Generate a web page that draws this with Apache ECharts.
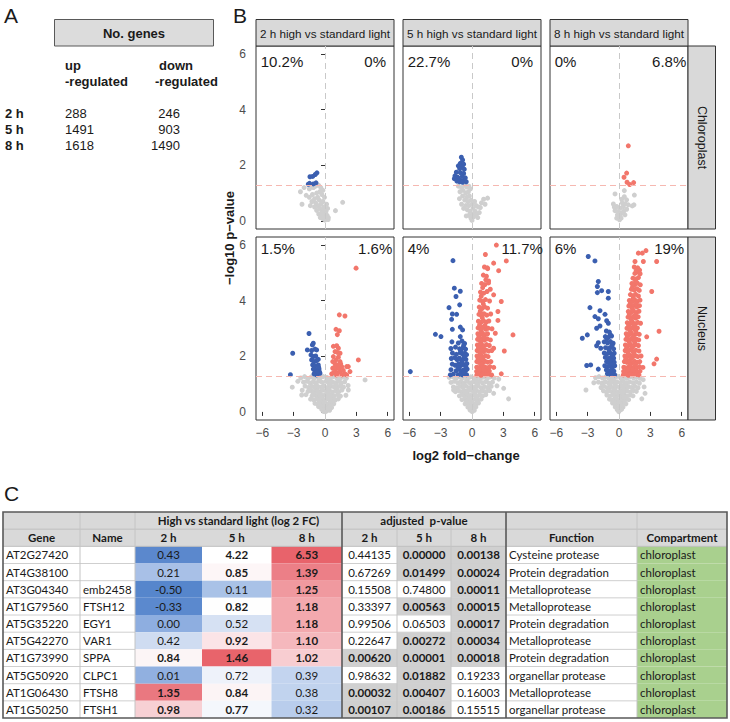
<!DOCTYPE html>
<html><head><meta charset="utf-8">
<script src="https://cdn.jsdelivr.net/npm/echarts@6/dist/echarts.min.js"></script>
<style>html,body{margin:0;padding:0;background:#fff}#c{width:730px;height:722px}</style>
</head><body><div id="c"></div>
<script>
// ---------------- Panel A data ----------------
const timeLabels = ['2 h', '5 h', '8 h'];
const upCounts = [288, 1491, 1618];
const downCounts = [246, 903, 1490];

// ---------------- Panel B data ----------------
const facetCols = ['2 h high vs standard light', '5 h high vs standard light', '8 h high vs standard light'];
const facetRows = ['Chloroplast', 'Nucleus'];
const pctDown = [['10.2%', '22.7%', '0%'], ['1.5%', '4%', '6%']];
const pctUp = [['0%', '0%', '6.8%'], ['1.6%', '11.7%', '19%']];
const xTicks = [-6, -3, 0, 3, 6];
const yTicks = [0, 2, 4, 6];
const pThreshold = 1.301;

const chl2hDown = [[-1.60,1.32],[-1.48,1.35],[-1.12,1.33],[-0.86,1.37],[-1.44,1.59],[-1.18,1.60],[-0.93,1.67],[-0.77,1.73]];
const chl2hUp = [];
const chl2hNS = [[-2.35,1.05],[-2.0,1.2],[-1.8,0.92],[-2.2,0.6],[-1.5,1.15],[-1.3,1.22],[-1.1,1.2],[-0.9,1.25],[-0.6,1.28],[-0.4,1.2],[-0.5,1.05],[-0.8,1.0],[-1.2,0.95],[-1.5,0.85],[-1.0,0.8],[-0.7,0.85],[-0.3,0.95],[-0.2,1.1],[-0.55,0.75],[-0.9,0.65],[-1.25,0.7],[-0.4,0.6],[-0.7,0.55],[-1.0,0.5],[-0.2,0.7],[-0.5,0.45],[-0.8,0.38],[-0.3,0.35],[-0.1,0.5],[-0.6,0.25],[-0.35,0.2],[-0.1,0.25],[0.05,0.15],[-0.2,0.08],[0.1,0.35],[0.2,0.2],[-0.45,0.12],[0.0,0.03],[0.15,0.6],[-0.05,0.85],[0.25,0.45],[1.0,0.37],[1.69,0.67],[-1.4,0.55],[-0.15,0.4],[0.32,0.12],[0.3,0.05]];

const chl5hDown = [[-1.02,2.29],[-0.90,2.19],[-1.12,2.07],[-0.80,2.04],[-1.31,1.98],[-0.93,1.95],[-1.18,1.88],[-0.74,1.86],[-1.50,1.75],[-1.12,1.74],[-0.80,1.71],[-1.63,1.62],[-1.37,1.57],[-0.93,1.60],[-0.64,1.55],[-1.69,1.52],[-1.12,1.47],[-0.80,1.45],[-0.55,1.41],[-1.18,1.41],[-1.44,1.43],[-0.90,1.39]];
const chl5hUp = [];
const chl5hNS = [[-1.3,1.25],[-1.0,1.2],[-0.7,1.28],[-0.5,1.22],[-0.3,1.25],[-0.85,1.1],[-1.15,1.05],[-0.6,1.0],[-0.35,1.05],[-0.15,1.15],[-0.9,0.9],[-0.5,0.85],[-0.25,0.9],[-0.7,0.75],[-1.2,0.8],[-0.4,0.7],[-0.1,0.75],[-0.6,0.55],[-0.3,0.55],[0.0,0.6],[-0.8,0.45],[-0.45,0.4],[-0.2,0.35],[0.1,0.45],[-0.3,0.2],[0.05,0.25],[-0.1,0.1],[0.15,0.15],[0.0,0.02],[0.3,0.35],[0.4,0.55],[0.6,0.5],[0.45,0.25],[0.25,0.7],[0.7,0.3],[0.9,0.65],[1.11,0.78],[1.49,0.82],[0.8,0.48],[1.25,0.6],[0.55,0.12],[-0.55,0.18],[-1.0,0.6]];

const chl8hDown = [];
const chl8hUp = [[0.89,2.70],[0.73,1.72],[0.48,1.57],[0.77,1.39],[1.02,1.31],[1.40,1.38]];
const chl8hNS = [[-0.38,0.97],[0.51,1.09],[1.47,0.93],[1.43,0.58],[0.51,0.87],[0.26,0.78],[0.73,0.76],[-0.54,0.61],[-0.22,0.52],[0.10,0.46],[0.41,0.52],[0.73,0.42],[-0.06,0.34],[0.26,0.28],[-0.38,0.37],[0.57,0.22],[0.10,0.16],[-0.22,0.10],[0.05,0.04],[1.27,0.54],[0.89,0.58],[0.3,0.65],[0.0,0.25],[-0.15,0.22],[0.45,0.35],[0.2,0.1],[-0.45,0.5],[0.6,0.62]];

const nuc2hDown = [[-3.09,2.11],[-3.31,1.34],[-1.53,2.82],[-1.12,2.47],[-1.21,2.41],[-1.69,2.23],[-1.28,2.21],[-0.96,2.26],[-0.80,2.23],[-1.34,2.05],[-1.12,1.99],[-0.89,2.01],[-1.28,1.87],[-1.05,1.81],[-0.80,1.85],[-0.64,1.89],[-1.18,1.69],[-0.93,1.66],[-0.64,1.69],[-1.12,1.54],[-0.86,1.51],[-0.57,1.54],[-0.96,1.42],[-0.70,1.37],[-0.48,1.39],[-0.80,1.33],[-0.54,1.45],[-1.05,1.37],[-0.60,1.60],[-0.75,1.45]];
const nuc2hUp = [[2.97,5.17],[1.37,3.49],[1.91,3.45],[1.05,2.97],[1.37,2.92],[1.18,2.78],[0.80,2.36],[1.12,2.38],[1.28,2.29],[3.19,1.87],[2.23,1.63],[2.39,1.45],[2.07,1.33],[0.96,2.17],[1.18,2.14],[1.44,2.11],[0.80,1.99],[1.28,1.97],[1.05,1.87],[0.74,1.81],[1.44,1.81],[0.96,1.73],[1.18,1.69],[1.50,1.73],[0.74,1.57],[1.05,1.54],[1.37,1.57],[1.60,1.63],[0.86,1.42],[1.18,1.39],[1.44,1.45],[1.75,1.49],[1.91,1.37],[0.64,1.37],[2.07,1.63],[1.60,1.33],[0.90,1.60],[1.10,1.33]];
const nuc2hNS = [[-2.32,1.22],[-1.95,1.27],[-1.62,1.19],[-1.31,1.26],[-1.04,1.21],[-0.72,1.28],[-0.43,1.23],[-0.17,1.27],[0.18,1.24],[0.47,1.2],[0.78,1.27],[1.12,1.22],[1.41,1.18],[1.73,1.25],[2.04,1.21],
[-2.05,1.07],[-1.74,1.1],[-1.43,1.04],[-1.12,1.09],[-0.83,1.05],[-0.52,1.11],[-0.27,1.06],[0.08,1.1],[0.36,1.03],[0.66,1.09],[0.94,1.05],[1.27,1.1],[1.56,1.04],[1.88,1.08],
[-1.91,0.93],[-1.57,0.88],[-1.26,0.92],[-0.97,0.87],[-0.66,0.91],[-0.36,0.89],[-0.11,0.94],[0.24,0.88],[0.54,0.92],[0.86,0.9],[1.16,0.86],[1.46,0.93],[1.77,0.89],[2.21,0.95],
[-2.18,0.78],[-1.63,0.74],[-1.32,0.77],[-1.01,0.72],[-0.74,0.76],[-0.48,0.73],[-0.22,0.78],[0.13,0.74],[0.41,0.77],[0.71,0.72],[1.02,0.76],[1.31,0.73],[1.62,0.79],[2.0,0.6],
[-1.82,0.62],[-1.24,0.58],[-0.96,0.61],[-0.69,0.57],[-0.44,0.63],[-0.19,0.59],[0.09,0.62],[0.34,0.57],[0.61,0.61],[0.89,0.58],[1.21,0.62],[1.48,0.57],
[-1.38,0.46],[-1.06,0.43],[-0.79,0.47],[-0.54,0.42],[-0.31,0.46],[-0.04,0.44],[0.21,0.47],[0.46,0.42],[0.72,0.46],[0.99,0.43],[1.28,0.47],
[-0.96,0.31],[-0.71,0.28],[-0.46,0.32],[-0.21,0.27],[0.04,0.31],[0.29,0.28],[0.56,0.32],[0.84,0.29],
[-0.61,0.19],[-0.36,0.16],[-0.11,0.2],[0.14,0.17],[0.39,0.19],[0.63,0.16],
[-0.31,0.09],[-0.06,0.07],[0.19,0.1],[0.44,0.06],[-0.16,0.02],[0.01,0.01],[0.13,0.03],
[-0.58,1.16],[0.31,1.16],[-0.87,0.99],[0.52,0.99],[-0.25,0.83],[0.38,0.82],[-0.6,0.67],[0.25,0.68],[-0.35,0.52],[0.47,0.52],[-0.08,0.37],[0.62,0.38],[-0.52,0.37],[1.1,0.97],[-1.15,0.68],
[-3.13,0.89],[-2.23,0.61],[2.23,0.79],[3.83,1.15],[-2.6,1.1]];

const nuc5hDown = [[-1.82,5.44],[-1.69,4.45],[-1.12,4.34],[-1.53,4.15],[-1.18,3.85],[-2.20,3.75],[-1.88,3.52],[-1.47,3.51],[-1.95,3.33],[-1.12,3.05],[-0.90,2.95],[-1.88,2.97],[-3.50,2.79],[-2.97,2.71],[-1.12,2.71],[-5.90,1.45],[-2.08,1.33],
[-1.92,2.52],[-1.31,2.48],[-0.96,2.55],[-0.71,2.46],
[-2.02,2.28],[-1.58,2.33],[-1.19,2.27],[-0.86,2.31],[-0.61,2.26],
[-1.87,2.12],[-1.49,2.07],[-1.13,2.13],[-0.91,2.08],[-0.69,2.11],[-0.52,2.06],
[-1.98,1.92],[-1.42,1.88],[-1.21,1.93],[-1.02,1.87],[-0.79,1.91],[-0.58,1.89],
[-1.89,1.72],[-1.61,1.68],[-1.29,1.73],[-1.08,1.67],[-0.88,1.71],[-0.69,1.69],[-0.49,1.74],
[-2.01,1.52],[-1.51,1.48],[-1.22,1.53],[-0.99,1.47],[-0.81,1.51],[-0.62,1.49],[-0.46,1.54],
[-1.78,1.36],[-1.32,1.34],[-1.09,1.37],[-0.91,1.33],[-0.72,1.36],[-0.52,1.34],
[-0.78,1.42],[-0.58,1.62],[-0.95,1.79],[-0.73,2.0],[-1.05,2.21],[-0.8,2.39],[-1.32,1.6],[-1.66,1.95]];
const nuc5hUp = [[2.33,6.0],[3.28,5.43],[2.07,5.35],[1.50,5.15],[1.59,4.71],[1.75,4.41],[2.07,4.21],[2.80,3.97],[2.48,3.61],[2.48,3.29],[3.92,2.77],[2.23,2.83],[2.07,2.29],[3.09,2.19],[2.80,1.37],[2.55,5.08],
[1.28,5.66],[1.19,5.21],[1.47,5.18],[1.08,4.92],[1.38,4.88],[0.92,4.62],[1.24,4.58],[1.58,4.64],[0.81,4.31],[1.12,4.27],[1.44,4.33],
[0.74,4.02],[1.01,3.97],[1.29,4.04],[1.68,3.99],[0.69,3.77],[0.96,3.72],[1.21,3.78],[1.49,3.73],
[0.66,3.51],[0.89,3.47],[1.14,3.53],[1.41,3.48],[1.79,3.52],[0.61,3.26],[0.86,3.22],[1.09,3.28],[1.36,3.23],[1.61,3.27],
[0.58,3.02],[0.81,2.98],[1.06,3.04],[1.31,2.97],[1.54,3.01],[1.91,2.99],[0.56,2.81],[0.76,2.77],[0.99,2.82],[1.24,2.78],[1.49,2.81],
[0.53,2.61],[0.74,2.57],[0.96,2.62],[1.19,2.58],[1.46,2.63],[1.76,2.59],[0.51,2.41],[0.71,2.38],[0.91,2.43],[1.14,2.37],[1.39,2.42],[1.66,2.39],
[0.49,2.21],[0.69,2.18],[0.89,2.23],[1.11,2.17],[1.34,2.22],[1.59,2.19],[1.89,2.21],[0.48,2.01],[0.66,1.98],[0.86,2.03],[1.06,1.97],[1.29,2.02],[1.54,1.99],
[0.46,1.81],[0.64,1.78],[0.84,1.83],[1.04,1.77],[1.26,1.82],[1.49,1.79],[1.81,1.81],
[0.45,1.61],[0.61,1.58],[0.81,1.63],[0.99,1.57],[1.21,1.62],[1.44,1.59],[1.71,1.63],[2.08,1.6],
[0.44,1.46],[0.62,1.44],[0.79,1.47],[1.01,1.43],[1.19,1.46],[1.41,1.44],[1.66,1.47],
[0.46,1.33],[0.64,1.35],[0.86,1.32],[1.04,1.34],[1.29,1.33],[1.56,1.35],[1.88,1.33],
[0.55,1.39],[0.72,1.53],[0.92,1.71],[1.13,1.52],[0.58,1.91],[0.78,2.1],[1.01,1.91],[0.62,2.31],[0.84,2.49],[1.06,2.31],[0.66,2.71],[0.89,2.9],[1.16,2.69],[0.72,3.12],[0.98,3.39],[1.24,3.11],[0.79,3.62],[1.08,3.88],[0.88,4.16],[1.02,4.47],[1.32,4.75]];
const nuc5hNS = [[-2.18,1.24],[-1.86,1.27],[-1.52,1.21],[-1.23,1.26],[-0.94,1.22],[-0.63,1.28],[-0.36,1.23],[-0.12,1.26],[0.21,1.22],[0.52,1.27],[0.83,1.21],[1.14,1.25],[1.47,1.2],[1.79,1.26],[2.12,1.22],[2.56,1.18],
[-2.01,1.06],[-1.69,1.1],[-1.37,1.05],[-1.06,1.09],[-0.77,1.04],[-0.47,1.1],[-0.21,1.05],[0.11,1.08],[0.41,1.04],[0.71,1.1],[1.01,1.05],[1.33,1.09],[1.63,1.03],[1.96,1.07],
[-1.78,0.9],[-1.46,0.87],[-1.17,0.92],[-0.88,0.88],[-0.57,0.93],[-0.29,0.87],[-0.04,0.91],[0.27,0.89],[0.58,0.93],[0.89,0.87],[1.19,0.91],[1.51,0.88],[1.84,0.92],
[-1.58,0.73],[-1.28,0.77],[-0.99,0.72],[-0.71,0.76],[-0.44,0.74],[-0.17,0.78],[0.14,0.73],[0.43,0.77],[0.74,0.72],[1.06,0.76],[1.36,0.73],[1.68,0.77],
[-1.21,0.58],[-0.93,0.62],[-0.66,0.57],[-0.39,0.61],[-0.13,0.59],[0.16,0.62],[0.44,0.57],[0.73,0.61],[1.03,0.58],[1.32,0.62],
[-0.96,0.44],[-0.71,0.47],[-0.46,0.42],[-0.21,0.46],[0.06,0.43],[0.31,0.47],[0.58,0.42],[0.87,0.46],
[-0.66,0.29],[-0.41,0.32],[-0.16,0.28],[0.09,0.31],[0.36,0.27],[0.62,0.32],
[-0.39,0.17],[-0.13,0.19],[0.12,0.16],[0.37,0.18],[-0.19,0.07],[0.04,0.09],[0.22,0.06],[0.02,0.01],
[-0.52,1.16],[0.36,1.15],[-0.82,0.98],[0.58,0.99],[-0.3,0.82],[0.3,0.81],[-0.55,0.66],[0.29,0.66],[-0.28,0.51],[0.45,0.51],[-0.04,0.36],[0.5,0.36],[-0.55,0.38],
[2.39,0.94],[3.03,0.85],[3.5,0.47],[2.07,0.67],[-1.76,0.79]];

const nuc8hDown = [[-2.94,5.59],[-2.30,5.43],[-1.98,4.69],[-2.07,4.51],[-1.66,4.36],[-2.07,4.29],[-1.02,4.33],[-1.02,4.09],[-2.78,3.75],[-1.82,3.64],[-2.30,3.43],[-1.98,3.35],[-1.34,3.51],[-1.18,3.28],[-1.02,3.19],[-2.14,3.01],[-1.82,3.09],[-3.03,2.77],[-3.51,2.65],[-1.98,2.49],[-1.75,2.29],[-2.14,2.38],[-3.09,1.67],[-2.71,1.69],[-1.98,1.54],
[-1.21,2.91],[-0.92,2.87],[-1.31,2.71],[-1.02,2.68],[-0.71,2.73],[-1.42,2.52],[-1.09,2.48],[-0.81,2.53],[-0.56,2.47],
[-1.29,2.31],[-1.01,2.28],[-0.76,2.33],[-0.51,2.27],[-1.41,2.12],[-1.16,2.08],[-0.89,2.13],[-0.66,2.07],[-0.46,2.11],
[-1.31,1.96],[-1.02,1.92],[-0.74,1.97],[-0.51,1.93],[-1.19,1.81],[-0.96,1.78],[-0.71,1.83],[-0.46,1.79],
[-1.36,1.66],[-1.09,1.63],[-0.86,1.67],[-0.61,1.62],[-0.41,1.66],[-1.21,1.51],[-0.94,1.48],[-0.69,1.52],[-0.49,1.47],
[-1.11,1.38],[-0.86,1.36],[-0.61,1.39],[-0.42,1.34],
[-0.73,1.44],[-0.55,1.71],[-0.83,1.88],[-0.6,2.02],[-0.94,2.2],[-0.66,2.4],[-1.16,2.62],[-0.84,2.78]];
const nuc8hUp = [[2.58,5.80],[2.23,5.71],[1.85,5.71],[1.53,5.41],[2.33,5.41],[3.60,5.41],[1.97,5.10],[3.13,4.33],[3.83,2.90],[2.65,2.70],[3.60,1.90],[3.35,1.73],
[1.46,5.21],[1.79,5.18],[1.52,4.98],[1.74,5.03],[2.02,4.97],[1.34,4.81],[1.61,4.78],[1.86,4.83],
[1.24,4.62],[1.51,4.58],[1.76,4.63],[2.04,4.57],[1.19,4.41],[1.46,4.38],[1.71,4.43],[1.94,4.37],
[1.09,4.22],[1.36,4.18],[1.59,4.23],[1.86,4.17],[0.99,4.01],[1.26,3.98],[1.51,4.03],[1.74,3.97],[2.01,4.02],
[0.94,3.81],[1.21,3.78],[1.44,3.83],[1.71,3.77],[1.96,3.82],[0.89,3.61],[1.16,3.58],[1.39,3.63],[1.66,3.57],[1.91,3.62],
[0.86,3.41],[1.09,3.38],[1.36,3.43],[1.59,3.37],[1.84,3.42],[0.79,3.21],[1.06,3.18],[1.29,3.23],[1.56,3.17],[1.79,3.22],[2.06,3.19],
[0.76,3.01],[0.99,2.98],[1.26,3.03],[1.49,2.97],[1.76,3.02],[0.69,2.81],[0.96,2.78],[1.19,2.83],[1.46,2.77],[1.69,2.82],[1.94,2.79],
[0.66,2.61],[0.89,2.58],[1.16,2.63],[1.39,2.57],[1.66,2.62],[1.89,2.59],[0.61,2.41],[0.86,2.38],[1.09,2.43],[1.36,2.37],[1.59,2.42],[1.86,2.39],
[0.59,2.21],[0.84,2.18],[1.11,2.23],[1.34,2.17],[1.61,2.22],[1.91,2.19],[0.56,2.01],[0.79,1.98],[1.06,2.03],[1.29,1.97],[1.56,2.02],[1.79,1.99],[2.11,2.01],
[0.51,1.81],[0.76,1.78],[0.99,1.83],[1.26,1.77],[1.49,1.82],[1.76,1.79],[1.99,1.81],
[0.46,1.61],[0.69,1.58],[0.96,1.63],[1.19,1.57],[1.46,1.62],[1.69,1.59],[1.96,1.63],[2.29,1.6],
[0.44,1.46],[0.71,1.44],[0.94,1.47],[1.21,1.43],[1.44,1.46],[1.71,1.44],[2.01,1.47],
[0.41,1.33],[0.66,1.35],[0.91,1.32],[1.16,1.34],[1.39,1.33],[1.66,1.35],[1.91,1.33],
[0.58,1.39],[0.83,1.52],[1.08,1.69],[1.33,1.52],[1.58,1.71],[0.63,1.89],[0.88,2.09],[1.18,1.92],[1.43,2.11],[0.72,2.29],[0.97,2.52],[1.23,2.31],[1.52,2.49],[0.79,2.69],[1.06,2.91],[1.33,2.69],[1.61,2.92],[0.92,3.11],[1.19,3.31],[1.46,3.12],[0.98,3.52],[1.28,3.71],[1.56,3.49],[1.08,3.91],[1.36,4.09],[1.63,3.89],[1.31,4.51],[1.58,4.71],[1.66,5.09]];
const nuc8hNS = [[-2.24,1.23],[-1.91,1.27],[-1.58,1.22],[-1.27,1.26],[-0.97,1.21],[-0.67,1.27],[-0.39,1.24],[-0.14,1.28],[0.17,1.22],[0.46,1.26],[0.76,1.21],[1.07,1.27],[1.38,1.23],[1.69,1.26],[2.02,1.21],[2.31,1.16],
[-1.97,1.07],[-1.64,1.03],[-1.33,1.09],[-1.03,1.05],[-0.74,1.1],[-0.46,1.04],[-0.19,1.08],[0.13,1.05],[0.42,1.1],[0.72,1.04],[1.03,1.08],[1.34,1.05],[1.66,1.09],[1.95,1.03],
[-1.72,0.88],[-1.41,0.92],[-1.12,0.87],[-0.83,0.91],[-0.54,0.88],[-0.27,0.93],[0.02,0.89],[0.31,0.92],[0.61,0.87],[0.92,0.91],[1.22,0.88],[1.53,0.92],[1.82,0.87],
[-1.49,0.76],[-1.21,0.72],[-0.92,0.77],[-0.64,0.73],[-0.37,0.76],[-0.11,0.72],[0.18,0.77],[0.47,0.73],[0.77,0.76],[1.08,0.72],[1.39,0.77],[1.66,0.74],
[-1.16,0.61],[-0.88,0.57],[-0.61,0.62],[-0.34,0.58],[-0.08,0.61],[0.21,0.57],[0.49,0.62],[0.78,0.58],[1.08,0.61],[1.34,0.58],
[-0.91,0.46],[-0.66,0.43],[-0.41,0.47],[-0.16,0.42],[0.11,0.46],[0.36,0.43],[0.63,0.47],[0.92,0.44],
[-0.62,0.32],[-0.37,0.28],[-0.12,0.31],[0.13,0.27],[0.39,0.32],[0.66,0.29],
[-0.36,0.18],[-0.11,0.16],[0.14,0.19],[0.38,0.17],[-0.17,0.08],[0.06,0.06],[0.24,0.09],[-0.02,0.01],
[-0.53,1.15],[0.31,1.16],[-0.88,0.99],[0.57,0.98],[-0.41,0.82],[0.45,0.81],[-0.49,0.67],[0.33,0.66],[-0.29,0.52],[0.5,0.53],[-0.02,0.37],[0.52,0.37],[-0.48,0.38],
[-3.16,0.79],[2.49,0.67],[2.4,0.9],[-2.41,1.05],[2.18,0.47]];

// ---------------- Panel C data ----------------
const genes = ['AT2G27420','AT4G38100','AT3G04340','AT1G79560','AT5G35220','AT5G42270','AT1G73990','AT5G50920','AT1G06430','AT1G50250'];
const geneNames = ['','','emb2458','FTSH12','EGY1','VAR1','SPPA','CLPC1','FTSH8','FTSH1'];
const fc2h = [0.43,0.21,-0.50,-0.33,0.00,0.42,0.84,0.01,1.35,0.98];
const fc5h = [4.22,0.85,0.11,0.82,0.52,0.92,1.46,0.72,0.84,0.77];
const fc8h = [6.53,1.39,1.25,1.18,1.18,1.10,1.02,0.39,0.38,0.32];
const padj2h = [0.44135,0.67269,0.15508,0.33397,0.99506,0.22647,0.00620,0.98632,0.00032,0.00107];
const padj5h = [0.00000,0.01499,0.74800,0.00563,0.06503,0.00272,0.00001,0.01882,0.00407,0.00186];
const padj8h = [0.00138,0.00024,0.00011,0.00015,0.00017,0.00034,0.00018,0.19233,0.16003,0.15515];
const geneFunctions = ['Cysteine protease','Protein degradation','Metalloprotease','Metalloprotease','Protein degradation','Metalloprotease','Protein degradation','organellar protease','Metalloprotease','organellar protease'];
const compartments = ['chloroplast','chloroplast','chloroplast','chloroplast','chloroplast','chloroplast','chloroplast','chloroplast','chloroplast','chloroplast'];

// ---------------- styles (kept separate from data) ----------------
const heatColors = [
  ['#5b88cd','#a8c0e7','#5686cc','#5b89ce','#8eaee0','#cfdcf1','#fcf5f6','#91b0e0','#ea7880','#f7d0d4'],
  ['#ffffff','#fdf6f7','#a9c2e7','#fefefe','#d6e1f3','#fbe4e7','#e8646b','#eef2fa','#fcf4f5','#f4f7fc'],
  ['#e8636b','#ec7f87','#f0999f','#f3a9ae','#f3a9ae','#f5b8bd','#f8cdd1','#c3d4ef','#c1d3ee','#b9cdec']
];
const SANS = '"Liberation Sans", Arial, sans-serif';
const TFONT = 'Lato, "Noto Sans", sans-serif';
const RED = '#f2766b', BLUE = '#3b5fb0', GREY = '#cfcfcf';
const DOT = 5;

const chart = echarts.init(document.getElementById('c'), null, {renderer: 'svg', width: 730, height: 722});

const PL = [256, 403, 550], PT = [46, 237], PW = 138, PH = 183;
const XMIN = -6.6, XMAX = 6.6, YMIN = -0.29, YMAX = 6.29;
const pts = {
  up: [[chl2hUp, chl5hUp, chl8hUp], [nuc2hUp, nuc5hUp, nuc8hUp]],
  down: [[chl2hDown, chl5hDown, chl8hDown], [nuc2hDown, nuc5hDown, nuc8hDown]],
  ns: [[chl2hNS, chl5hNS, chl8hNS], [nuc2hNS, nuc5hNS, nuc8hNS]]
};
const labelY = [5.72, 5.87];
const labelXLeft = -6.15, labelXRight = 4.8;

const grids = [], xAxes = [], yAxes = [], series = [];
for (let r = 0; r < 2; r++) {
  for (let c = 0; c < 3; c++) {
    const k = r * 3 + c;
    grids.push({left: PL[c], top: PT[r], width: PW, height: PH, show: true, backgroundColor: '#fff',
      borderColor: '#333', borderWidth: 1, containLabel: false, outerBoundsMode: 'none'});
    xAxes.push({gridIndex: k, type: 'value', min: XMIN, max: XMAX,
      axisLine: {show: false}, splitLine: {show: false},
      axisTick: {show: r === 1, customValues: xTicks, length: 4, lineStyle: {color: '#333'}},
      axisLabel: {show: r === 1, customValues: xTicks, color: '#4d4d4d', fontSize: 12, fontFamily: SANS, margin: 7,
        formatter: v => String(v).replace('-', '\u2212')}});
    yAxes.push({gridIndex: k, type: 'value', min: YMIN, max: YMAX,
      axisLine: {show: false}, splitLine: {show: false},
      axisTick: {show: c === 0, customValues: yTicks, length: 4, lineStyle: {color: '#333'}},
      axisLabel: {show: c === 0, customValues: yTicks, color: '#4d4d4d', fontSize: 12, fontFamily: SANS, margin: 10}});
    series.push({type: 'scatter', xAxisIndex: k, yAxisIndex: k, data: pts.ns[r][c], symbolSize: DOT,
      itemStyle: {color: GREY, opacity: 1}, silent: true,
      markLine: {silent: true, symbol: 'none', label: {show: false}, animation: false,
        data: [
          {yAxis: pThreshold, lineStyle: {color: '#f6b8b1', type: [6, 4], width: 1, opacity: 1}},
          {xAxis: 0, lineStyle: {color: '#c9c9c9', type: [6, 4], width: 1, opacity: 1}}
        ]}});
    series.push({type: 'scatter', xAxisIndex: k, yAxisIndex: k, data: pts.down[r][c], symbolSize: DOT,
      itemStyle: {color: BLUE, opacity: 1}, silent: true});
    series.push({type: 'scatter', xAxisIndex: k, yAxisIndex: k, data: pts.up[r][c], symbolSize: DOT,
      itemStyle: {color: RED, opacity: 1}, silent: true});
  }
}

function txt(x, y, s, o) {
  o = o || {};
  const al = o.align || 'left';
  return {type: 'text', x: x, y: y, rotation: o.rot || 0, silent: true, z: 10,
    style: {text: s, fill: o.color || '#1a1a1a', opacity: 1,
      font: (o.weight || 'normal') + ' ' + (o.size || 13) + 'px ' + (o.family || SANS),
      textAlign: al, align: al, textVerticalAlign: 'middle', verticalAlign: 'middle'}};
}
function rect(x, y, w, h, fill, stroke, lw) {
  return {type: 'rect', silent: true, z: 1, shape: {x: x, y: y, width: w, height: h},
    style: {fill: fill, stroke: stroke || null, lineWidth: lw || 0}};
}
function line(x1, y1, x2, y2, stroke, lw) {
  return {type: 'line', silent: true, z: 3, shape: {x1: x1, y1: y1, x2: x2, y2: y2},
    style: {stroke: stroke, lineWidth: lw || 1}};
}

const G = [];
G.push(txt(4, 15, 'A', {size: 21}));
G.push(txt(233, 15, 'B', {size: 21}));
G.push(txt(4, 493, 'C', {size: 21}));

// ---- Panel A table
G.push(rect(54.5, 19.5, 159, 26.5, '#dcdcdc', '#595959', 1));
G.push(txt(134, 33, 'No. genes', {weight: 'bold', size: 13, align: 'center'}));
G.push(txt(65, 65, 'up', {weight: 'bold', size: 13}));
G.push(txt(65, 81, '-regulated', {weight: 'bold', size: 13}));
G.push(txt(159, 65, 'down', {weight: 'bold', size: 13}));
G.push(txt(155, 81, '-regulated', {weight: 'bold', size: 13}));
timeLabels.forEach((t, i) => {
  const y = 113 + i * 16;
  G.push(txt(5, y, t, {weight: 'bold', size: 13}));
  G.push(txt(65, y, String(upCounts[i]), {size: 13}));
  G.push(txt(180, y, String(downCounts[i]), {size: 13, align: 'right'}));
});

// ---- Panel B strips and titles
facetCols.forEach((t, c) => {
  G.push(rect(PL[c], 19.5, PW, 26.5, '#d9d9d9', '#333', 1));
  G.push(txt(PL[c] + PW / 2, 33, t, {size: 11.7, align: 'center'}));
});
facetRows.forEach((t, r) => {
  G.push(rect(688, PT[r], 27.5, PH, '#d9d9d9', '#333', 1));
  G.push(txt(702, PT[r] + PH / 2, t, {size: 12.5, align: 'center', rot: -Math.PI / 2}));
});
G.push(txt(229, 238, '\u2212log10 p\u2212value', {weight: 'bold', size: 13, align: 'center', rot: Math.PI / 2}));
G.push(txt(466, 455, 'log2 fold\u2212change', {weight: 'bold', size: 13, align: 'center'}));

// ---- Panel C table
const colX = [3, 80, 135, 202, 271.5, 342, 397, 451, 506, 637, 727];
const tTop = 512, rowH = 17.17;
const cx = i => (colX[i] + colX[i + 1]) / 2;
const rowC = r => tTop + rowH * (r + 0.5);
G.push(rect(colX[0], tTop, colX[10] - colX[0], rowH * 2, '#d9d9d9'));
const fcCols = [fc2h, fc5h, fc8h];
const pCols = [padj2h, padj5h, padj8h];
for (let r = 0; r < genes.length; r++) {
  const y = tTop + rowH * (r + 2);
  fcCols.forEach((arr, c) => G.push(rect(colX[2 + c], y, colX[3 + c] - colX[2 + c], rowH, heatColors[c][r])));
  pCols.forEach((arr, c) => { if (arr[r] < 0.05) G.push(rect(colX[5 + c], y, colX[6 + c] - colX[5 + c], rowH, '#d0d0d0')); });
  G.push(rect(colX[9], y, colX[10] - colX[9], rowH, '#a9d08e'));
}
for (let k = 1; k < 12; k++) {
  const y = tTop + rowH * k;
  const col = k <= 2 ? '#bfbfbf' : '#cfcfcf';
  G.push(line(colX[0], y, colX[2], y, col, 1));
  if (k <= 2) G.push(line(colX[2], y, colX[5], y, '#bfbfbf', 1));
  G.push(line(colX[5], y, colX[9], y, col, 1));
  if (k <= 2) G.push(line(colX[9], y, colX[10], y, col, 1));
}
[1, 2, 6, 7, 9].forEach(i => G.push(line(colX[i], tTop, colX[i], tTop + rowH * 12, '#c4c4c4', 1)));
[5, 8].forEach(i => G.push(line(colX[i], tTop, colX[i], tTop + rowH * 12, '#595959', 1.6)));
G.push({type: 'rect', silent: true, z: 4, shape: {x: colX[0], y: tTop, width: colX[10] - colX[0], height: rowH * 12},
  style: {fill: 'none', stroke: '#595959', lineWidth: 1.6}});
const TF = {family: TFONT, size: 11.5, weight: 'bold', align: 'center'};
G.push(txt((colX[2] + colX[5]) / 2, rowC(0), 'High vs standard light (log 2 FC)', TF));
G.push(txt((colX[5] + colX[8]) / 2, rowC(0), 'adjusted  p-value', TF));
['Gene', 'Name', '2 h', '5 h', '8 h', '2 h', '5 h', '8 h', 'Function', 'Compartment'].forEach((t, i) =>
  G.push(txt(cx(i), rowC(1), t, TF)));
for (let r = 0; r < genes.length; r++) {
  const y = rowC(r + 2);
  const base = {family: TFONT, size: 11.5, color: '#1a1a1a'};
  G.push(txt(colX[0] + 3, y, genes[r], base));
  if (geneNames[r]) G.push(txt(colX[1] + 3, y, geneNames[r], base));
  fcCols.forEach((arr, c) => {
    const bold = pCols[c][r] < 0.05 && Math.abs(arr[r]) > 0.75;
    G.push(txt(cx(2 + c), y, arr[r].toFixed(2), Object.assign({}, base, {align: 'center', weight: bold ? 'bold' : 'normal'})));
  });
  pCols.forEach((arr, c) => {
    const bold = arr[r] < 0.05;
    G.push(txt(cx(5 + c), y, arr[r].toFixed(5), Object.assign({}, base, {align: 'center', weight: bold ? 'bold' : 'normal'})));
  });
  G.push(txt(colX[8] + 3, y, geneFunctions[r], base));
  G.push(txt(colX[9] + 3, y, compartments[r], base));
}

chart.setOption({
  animation: false,
  backgroundColor: '#ffffff',
  grid: grids, xAxis: xAxes, yAxis: yAxes, series: series,
  graphic: {elements: G}
});

// percentage annotations placed through the panels' own scales
const G2 = G.slice();
for (let r = 0; r < 2; r++) {
  for (let c = 0; c < 3; c++) {
    const k = r * 3 + c;
    const pL = chart.convertToPixel({gridIndex: k}, [labelXLeft, labelY[r]]);
    const pR = chart.convertToPixel({gridIndex: k}, [labelXRight, labelY[r]]);
    G2.push(txt(pL[0], pL[1], pctDown[r][c], {size: 15, color: '#1a1a1a'}));
    G2.push(txt(pR[0], pR[1], pctUp[r][c], {size: 15, color: '#1a1a1a', align: 'center'}));
  }
}
chart.setOption({graphic: {elements: G2}}, {replaceMerge: ['graphic']});
</script>
</body></html>
